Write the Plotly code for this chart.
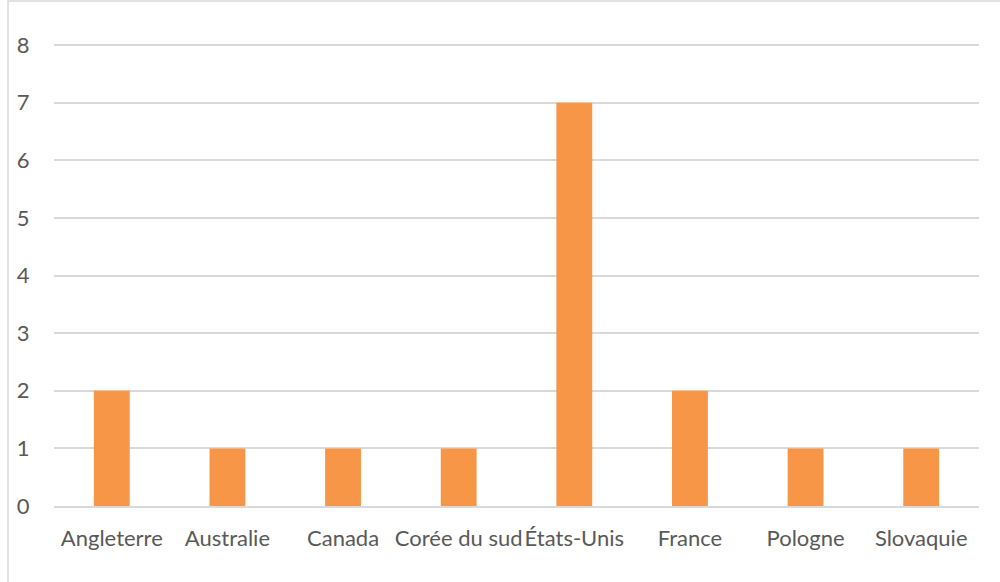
import plotly.graph_objects as go

categories = ["Angleterre", "Australie", "Canada", "Corée du sud", "États-Unis", "France", "Pologne", "Slovaquie"]
values = [2, 1, 1, 1, 7, 2, 1, 1]
y_ticks = [0, 1, 2, 3, 4, 5, 6, 7, 8]

L, R, T, B = 54, 21, 44, 76
W, H = 1000, 582
pw, ph = W - L - R, H - T - B

fig = go.Figure(go.Bar(x=categories, y=values, marker=dict(color="#F79646", line=dict(width=0)), hoverinfo="x+y"))

fig.update_layout(
    width=W, height=H,
    margin=dict(l=L, r=R, t=T, b=B),
    plot_bgcolor="white", paper_bgcolor="white",
    bargap=0.69,
    font=dict(family="Lato, Liberation Sans, sans-serif", size=22, color="#595959"),
    showlegend=False,
    xaxis=dict(showgrid=False, showline=True, linecolor="#D9D9D9", linewidth=1.5,
               ticks="outside", ticklen=12, tickcolor="rgba(0,0,0,0)", tickfont=dict(size=22)),
    yaxis=dict(range=[0, 8.02], tickvals=y_ticks, showgrid=True, gridcolor="#D9D9D9", gridwidth=1.5,
               zeroline=False, showline=False, ticks="outside", ticklen=19, tickcolor="rgba(0,0,0,0)",
               tickfont=dict(size=22)),
    shapes=[dict(type="rect", xref="paper", yref="paper",
                 x0=(8 - L) / pw, x1=(1010 - L) / pw,
                 y0=-(600 - (H - B)) / ph, y1=(H - B - 1) / ph,
                 line=dict(color="#D9D9D9", width=1.5), fillcolor="rgba(0,0,0,0)", layer="below")],
)

fig.write_html("out.html")
